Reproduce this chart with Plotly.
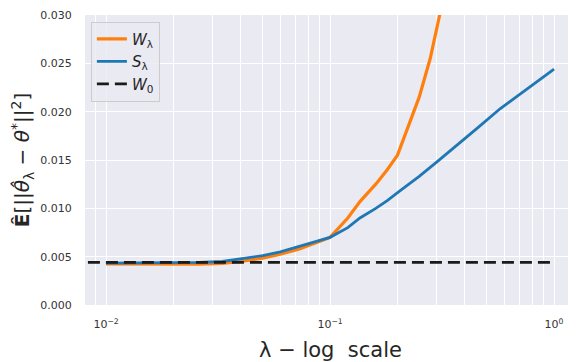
import plotly.graph_objects as go

# lambda values and estimated risk
lam_s = [0.01, 0.015, 0.02, 0.026, 0.033, 0.040, 0.050, 0.060, 0.073, 0.085, 0.10,
         0.12, 0.136, 0.16, 0.18, 0.205, 0.25, 0.30, 0.343, 0.40, 0.46, 0.574, 0.70, 0.85, 1.0]
risk_s = [0.00433, 0.00433, 0.00435, 0.00440, 0.00450, 0.00475, 0.00510, 0.00550, 0.00605, 0.00650, 0.00700,
          0.00800, 0.00900, 0.01000, 0.01080, 0.01180, 0.01330, 0.01480, 0.01590, 0.01720, 0.01840, 0.02030, 0.02180, 0.02320, 0.02440]

lam_w = [0.01, 0.015, 0.02, 0.026, 0.033, 0.040, 0.050, 0.060, 0.073, 0.085, 0.10,
         0.12, 0.136, 0.16, 0.18, 0.20, 0.22, 0.25, 0.28, 0.30, 0.32, 0.34]
risk_w = [0.00425, 0.00422, 0.00420, 0.00422, 0.00430, 0.00450, 0.00485, 0.00525, 0.00580, 0.00635, 0.00700,
          0.00900, 0.01070, 0.01250, 0.01400, 0.01550, 0.01800, 0.02150, 0.02550, 0.02850, 0.03150, 0.03450]

w0_x = [0.0083, 1.0]
w0_y = [0.0044, 0.0044]

xtick_vals = [0.01, 0.1, 1.0]
xtick_text = ['10<sup>\u22122</sup>', '10<sup>\u22121</sup>', '10<sup>0</sup>']
ytick_vals = [0.0, 0.005, 0.010, 0.015, 0.020, 0.025, 0.02999]
ytick_text = ['0.000', '0.005', '0.010', '0.015', '0.020', '0.025', '0.030']

minor_x = [m * 10 ** e for e in (-3, -2, -1, 0) for m in range(2, 10)]

fig = go.Figure()

fig.add_trace(go.Scatter(x=lam_w, y=risk_w, mode='lines', name='<i>W</i><sub>\u03bb</sub>',
                         line=dict(color='#ff7f0e', width=3.2)))
fig.add_trace(go.Scatter(x=lam_s, y=risk_s, mode='lines', name='<i>S</i><sub>\u03bb</sub>',
                         line=dict(color='#1f77b4', width=2.8)))
fig.add_trace(go.Scatter(x=w0_x, y=w0_y, mode='lines', name='<i>W</i><sub>0</sub>',
                         line=dict(color='#1a1a1a', width=2.8, dash='12px,6px')))

fig.update_xaxes(type='log', range=[-2.094, 0.098], automargin=False,
                 tickvals=xtick_vals, ticktext=xtick_text,
                 showgrid=True, gridcolor='white', gridwidth=1.3,
                 minor=dict(tickvals=minor_x, showgrid=True, gridcolor='white', gridwidth=1),
                 ticks='outside', ticklen=9, tickcolor='rgba(0,0,0,0)',
                 tickfont=dict(size=11, color='#333333'),
                 zeroline=False, showline=False,
                 title=dict(text='\u03bb \u2212 log  scale', font=dict(size=21, color='#262626'),
                            standoff=13))

fig.update_yaxes(range=[0, 0.030], automargin=False,
                 tickvals=ytick_vals, ticktext=ytick_text,
                 ticklabeloverflow='allow',
                 showgrid=True, gridcolor='white', gridwidth=1.3,
                 ticks='outside', ticklen=10, tickcolor='rgba(0,0,0,0)',
                 tickfont=dict(size=11, color='#333333'),
                 zeroline=False, showline=False,
                 title=dict(text='<b>\u00ca</b>[||<i>\u03b8\u0302</i><sub>\u03bb</sub> \u2212 <i>\u03b8</i><sup>*</sup>||<sup>2</sup>]',
                            font=dict(size=20, color='#262626'), standoff=14))

# the page body adds an 8px offset, so the figure is sized to fit inside it
fig.update_layout(width=568, height=354,
                  margin=dict(l=77, r=0, t=7, b=57),
                  plot_bgcolor='#eaeaf2', paper_bgcolor='white',
                  font=dict(family='DejaVu Sans', color='#262626'),
                  showlegend=True,
                  legend=dict(x=0.012, y=0.977, xanchor='left', yanchor='top',
                              bgcolor='rgba(234,234,242,0.8)', bordercolor='#cccccc', borderwidth=1,
                              font=dict(size=15, color='#262626'),
                              itemwidth=30, tracegroupgap=2))

fig.write_html("out.html")
